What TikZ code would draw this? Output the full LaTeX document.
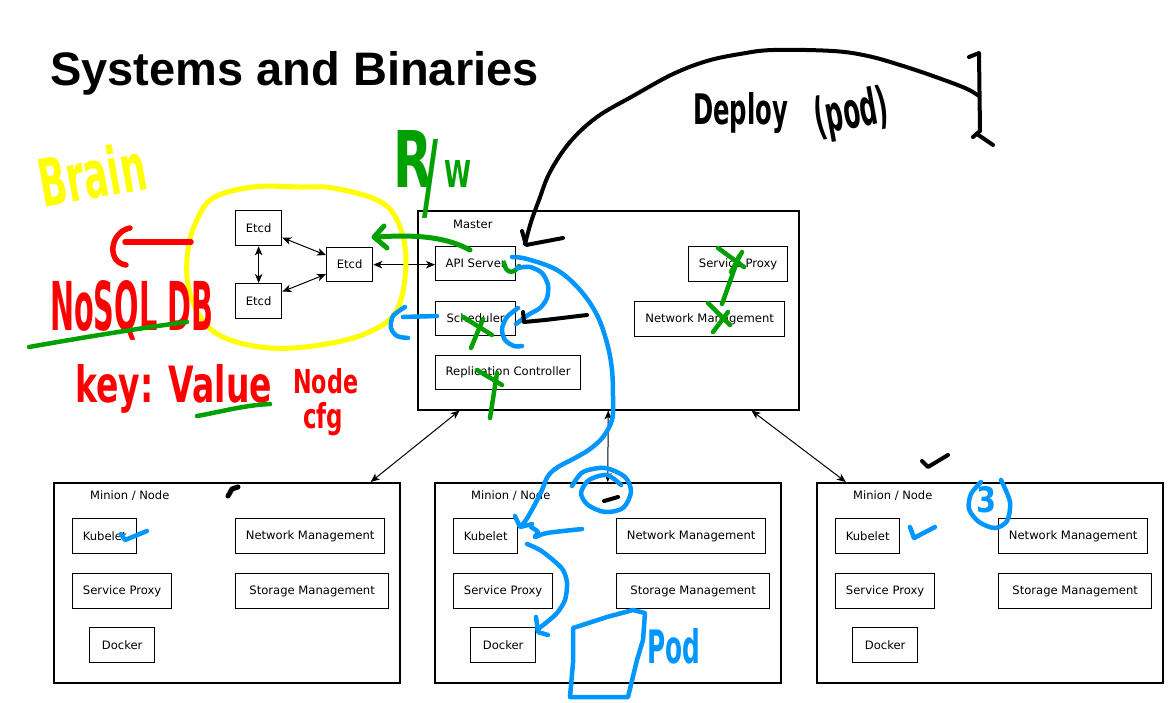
\documentclass[tikz,border=0pt]{standalone}
\usepackage{fontspec}
\usepackage{graphicx}
\setmainfont{DejaVu Sans}
\newfontfamily\titlefont{Liberation Sans}
\usetikzlibrary{arrows.meta,calc}
\definecolor{hyellow}{RGB}{255,255,0}
\definecolor{hred}{RGB}{255,0,0}
\definecolor{hgreen}{RGB}{0,160,0}
\definecolor{hblue}{RGB}{0,150,255}
\tikzset{
  box/.style={draw, line width=1.3pt, inner sep=0pt, anchor=north west, font=\fontsize{11.6}{13}\selectfont},
  cont/.style={draw, line width=1.5pt, inner sep=0pt, anchor=north west},
  lbl/.style={inner sep=0pt, anchor=west, font=\fontsize{11.5}{13}\selectfont},
  conn/.style={{Stealth[length=9pt,width=7.5pt,inset=2.5pt]}-{Stealth[length=9pt,width=7.5pt,inset=2.5pt]}, line width=1pt},
  mk/.style={line width=4.5pt, line cap=round, line join=round},
  hand/.style={inner sep=0pt, font=\bfseries}
}
\begin{document}
\begin{tikzpicture}[x=1pt,y=-1pt]
\useasboundingbox (0,0) rectangle (1176,702);
\fill[white] (0,0) rectangle (1176,702);

% title
\node[inner sep=0pt, anchor=base west, font=\titlefont\bfseries\fontsize{47}{50}\selectfont] (title) at (50,85) {Systems and Binaries};

% etcd cluster
\node[box, minimum width=46pt, minimum height=35pt] (etcdA) at (235,210) {Etcd};
\node[box, minimum width=46pt, minimum height=35pt] (etcdB) at (235,283) {Etcd};
\node[box, minimum width=46pt, minimum height=34pt] (etcdC) at (326,247) {Etcd};

% master
\node[cont, minimum width=381pt, minimum height=199pt] (master) at (417,210) {};
\node[lbl] (masterlbl) at (453,224) {Master};
\node[box, minimum width=80pt, minimum height=34pt] (api) at (435,246) {API Server};
\node[box, minimum width=80pt, minimum height=34pt] (sched) at (435,301) {Scheduler};
\node[box, minimum width=145pt, minimum height=34pt] (repl) at (435,355) {Replication Controller};
\node[box, minimum width=99pt, minimum height=35pt] (msp) at (688,246) {Service Proxy};
\node[box, minimum width=150pt, minimum height=35pt] (mnm) at (634,301) {Network Management};

% minions
\foreach \d/\i in {0/1,381/2,763/3}{
  \node[cont, minimum width=346pt, minimum height=200pt] (m\i) at (53+\d,482) {};
  \node[lbl] (ml\i) at (90+\d,496) {Minion / Node};
  \node[box, minimum width=64pt, minimum height=35pt] (kub\i) at (72+\d,518) {Kubelet};
  \node[box, minimum width=99pt, minimum height=35pt] (sp\i) at (72+\d,573) {Service Proxy};
  \node[box, minimum width=65pt, minimum height=35pt] (dock\i) at (89+\d,627) {Docker};
  \node[box, minimum width=149pt, minimum height=35pt] (nm\i) at (235+\d,518) {Network Management};
  \node[box, minimum width=153pt, minimum height=35pt] (stm\i) at (235+\d,573) {Storage Management};
}

% connectors
\draw[conn] (etcdA) -- (etcdC);
\draw[conn] (etcdB) -- (etcdC);
\draw[conn] (etcdA) -- (etcdB);
\draw[conn] (etcdC.east) -- (etcdC.east -| api.west);
\draw[conn] (master.214.7) -- (m1.35);
\draw[conn] (master.south) -- (m2.north);
\draw[conn] (master.325.3) -- (m3.145);

% ---------- yellow annotations ----------
\draw[mk, hyellow, line width=5pt] plot[smooth cycle, tension=0.6] coordinates {(213,198) (253,187) (300,187) (333,188) (377,200) (397,220) (406,260) (397,310) (367,333) (320,345) (270,348) (225,338) (201,318) (188,285) (188,250) (196,222)};
\node[hand, hyellow, rotate=10] (brain) at (92,174) {\resizebox{108pt}{50pt}{Brain}};

% ---------- red annotations ----------
\draw[mk, hred, line width=5.5pt] (125,242) -- (191,242);
\draw[mk, hred, line width=5.5pt] (130,228) .. controls (110,232) and (106,262) .. (126,265);
\node[hand, hred, anchor=base west] (nosql) at (50,330) {\resizebox{163pt}{50pt}{NoSQL DB}};
\node[hand, hred, anchor=base west] (kv) at (75,402) {\resizebox{197pt}{38pt}{key: Value}};
\node[hand, hred, anchor=base west] (nodetxt) at (293,393) {\resizebox{65pt}{25pt}{Node}};
\node[hand, hred, anchor=base west] (cfgtxt) at (303,428) {\resizebox{40pt}{26pt}{cfg}};

% ---------- green annotations ----------
\node[hand, hgreen, anchor=base west] (rw) at (393,187) {\resizebox{39pt}{57pt}{R}\kern-10pt\raisebox{-22pt}{\resizebox{16pt}{70pt}{/}}\kern6pt\resizebox{27pt}{27pt}{W}};
\draw[mk, hgreen, line width=5pt] (470,250) .. controls (448,238) and (420,234) .. (377,237);
\draw[mk, hgreen, line width=5pt] (384,226) -- (374,237) -- (387,248);
\draw[mk, hgreen] (504,263) .. controls (506,274) and (514,274) .. (519,266);
\draw[mk, hgreen] (463,317) -- (492,335);
\draw[mk, hgreen] (483,319) -- (471,348);
\draw[mk, hgreen] (477,370) -- (502,385);
\draw[mk, hgreen] (497,373) -- (490,418);
\draw[mk, hgreen] (708,303) -- (730,325);
\draw[mk, hgreen] (728,312) -- (713,332);
\draw[mk, hgreen] (722,304) -- (739,256);
\draw[mk, hgreen] (718,248) -- (744,267);
\draw[mk, hgreen] (742,252) -- (731,272);
\draw[mk, hgreen] (29,347) .. controls (80,338) and (140,328) .. (187,322);
\draw[mk, hgreen] (197,416) .. controls (220,412) and (245,405) .. (270,404);

% ---------- blue annotations ----------
\draw[mk, hblue] plot[smooth, tension=0.6] coordinates {(512,257) (527,259) (557,270) (580,290) (597,315) (607,343) (612,370) (613,400) (612,420) (603,437) (590,449) (575,458) (558,467) (548,476) (542,490) (534,506) (526,520) (521,526)};
\draw[mk, hblue] (515,516) -- (520,527) -- (532,524);
\draw[mk, hblue] plot[smooth] coordinates {(527,544) (540,550) (553,560) (563,570) (567,583) (565,600) (557,613) (547,622) (538,629)};
\draw[mk, hblue] (536,617) -- (538,632) -- (548,635);
\draw[mk, hblue] plot[smooth] coordinates {(531,527) (538,532) (535,537) (547,533) (582,529)};
\draw[mk, hblue] plot[smooth] coordinates {(572,486) (583,472) (605,468) (625,477) (631,492) (623,508) (605,512) (588,505) (581,493) (589,480) (607,475) (621,485)};
\draw[mk, hblue] plot[smooth] coordinates {(517,268) (530,267) (542,273) (548,285) (547,298) (540,308) (528,315) (516,324)};
\draw[mk, hblue] plot[smooth] coordinates {(518,308) (507,317) (502,329) (505,340) (514,346) (522,346)};
\draw[mk, hblue] plot[smooth] coordinates {(405,307) (393,316) (391,328) (397,336) (408,338)};
\draw[mk, hblue] (403,317) -- (437,316);
\draw[mk, hblue] (121,534) -- (125,540) -- (147,531);
\draw[mk, hblue] (910,527) -- (914,538) -- (935,527);
\draw[mk, hblue] plot[smooth] coordinates {(981,482) (971,494) (969,509) (979,522) (995,528) (1007,521) (1010,502) (1001,480)};
\node[hand, hblue, anchor=base west] (three) at (976,512) {\resizebox{20pt}{26pt}{3}};
\draw[mk, hblue] (573,628) -- (607,617) -- (633,610) -- (645,613) -- (643,640) -- (637,660) -- (628,697) -- (570,697) -- (573,663) -- cycle;
\node[hand, hblue, anchor=base west] (podtxt) at (647,663) {\resizebox{53pt}{35pt}{Pod}};

% ---------- black annotations ----------
\draw[mk, line width=4pt] plot[smooth, tension=0.6] coordinates {(525,244) (531,222) (539,200) (550,172) (570,142) (597,117) (633,96) (673,74) (707,61) (740,54) (773,50) (833,51) (868,56) (900,65) (933,76) (965,88) (979,96)};
\draw[mk, line width=4pt] (522,231) -- (526,245) -- (563,238);
\draw[mk, line width=4pt] (969,57) -- (979,53) -- (980,131) -- (973,137);
\draw[mk, line width=4pt] (977,134) -- (993,145);
\node[hand, anchor=base west] (deploy) at (693,124) {\resizebox{95pt}{32pt}{Deploy}};
\node[hand, rotate=10] (pod2) at (852,114) {\resizebox{74pt}{38pt}{(pod)}};
\draw[mk, line width=4pt] (523,312) -- (524,322) -- (545,320) -- (587,315);
\draw[mk, line width=5pt] (228,496) -- (232,489) -- (238,487);
\draw[mk, line width=4pt] (922,461) -- (928,467) -- (948,455);
\draw[mk, line width=4pt] (604,501) -- (618,497);
\end{tikzpicture}
\end{document}
